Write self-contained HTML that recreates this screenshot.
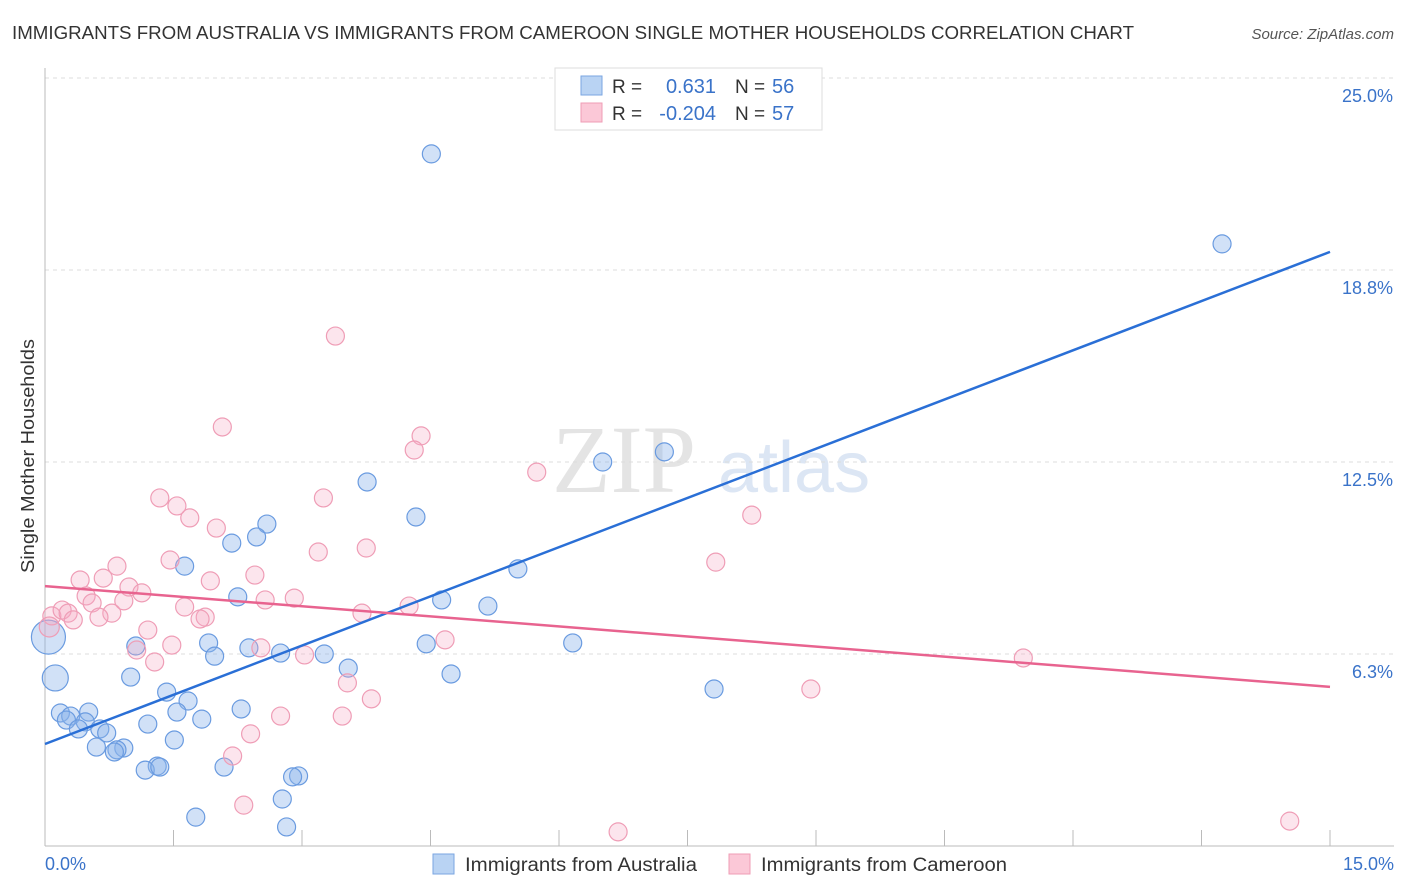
<!DOCTYPE html>
<html><head><meta charset="utf-8">
<style>
body{margin:0;background:#fff;font-family:"Liberation Sans",sans-serif;}
svg{display:block}
</style></head>
<body>
<svg id="chart" width="1406" height="892">
<text x="12" y="39" font-size="18" fill="#333" textLength="1122" lengthAdjust="spacingAndGlyphs">IMMIGRANTS FROM AUSTRALIA VS IMMIGRANTS FROM CAMEROON SINGLE MOTHER HOUSEHOLDS CORRELATION CHART</text>
<text x="1394" y="39" font-size="15" fill="#555" font-style="italic" text-anchor="end">Source: ZipAtlas.com</text>
<text x="552" y="492" font-size="96" fill="#e4e4e4" font-family="Liberation Serif,serif">ZIP</text>
<text x="718" y="492" font-size="72" fill="#dce6f4">atlas</text>
<g id="grid"></g>
<g id="axes"></g>
<g id="marks"></g>
<text transform="translate(34,456) rotate(-90)" font-size="18" fill="#333" text-anchor="middle" textLength="234" lengthAdjust="spacingAndGlyphs">Single Mother Households</text>
<text x="45" y="870" font-size="18" fill="#3a73c9">0.0%</text>
<text x="1394" y="870" font-size="18" fill="#3a73c9" text-anchor="end">15.0%</text>
<g>
<rect x="555" y="68" width="267" height="62" fill="#fff" stroke="#ddd"/>
<rect x="581" y="76" width="21" height="19" fill="#b9d3f3" stroke="#7aa6e2"/>
<rect x="581" y="103" width="21" height="19" fill="#fbc8d7" stroke="#ef9db6"/>
<text x="612" y="93" font-size="19" fill="#333">R =</text>
<text x="716" y="93" font-size="20" fill="#3a73c9" text-anchor="end">0.631</text>
<text x="735" y="93" font-size="19" fill="#333">N =</text>
<text x="772" y="93" font-size="20" fill="#3a73c9">56</text>
<text x="612" y="120" font-size="19" fill="#333">R =</text>
<text x="716" y="120" font-size="20" fill="#3a73c9" text-anchor="end">-0.204</text>
<text x="735" y="120" font-size="19" fill="#333">N =</text>
<text x="772" y="120" font-size="20" fill="#3a73c9">57</text>
</g>
<g>
<rect x="433" y="854" width="21" height="20" fill="#b9d3f3" stroke="#7aa6e2"/>
<text x="465" y="871" font-size="19" fill="#333" textLength="232" lengthAdjust="spacingAndGlyphs">Immigrants from Australia</text>
<rect x="729" y="854" width="21" height="20" fill="#fbc8d7" stroke="#ef9db6"/>
<text x="761" y="871" font-size="19" fill="#333" textLength="246" lengthAdjust="spacingAndGlyphs">Immigrants from Cameroon</text>
</g>
</svg>
<script>
const yTicks=[6.25,12.5,18.75,25];
const yTickLabels=["6.3%","12.5%","18.8%","25.0%"];
const xTicks=[0,1.5,3,4.5,6,7.5,9,10.5,12,13.5,15];
const blueX=[4.51,13.74,6.51,7.23,3.76,4.33,2.59,2.47,2.18,1.63,5.52,2.25,4.63,5.17,1.06,1.91,2.38,2.75,1.98,3.26,4.45,6.16,3.54,4.74,1.00,0.12,0.04,7.81,1.42,1.67,0.18,0.51,1.54,0.30,0.25,0.47,2.29,1.20,1.83,0.64,0.39,0.72,1.51,0.60,0.92,0.84,0.81,1.31,2.09,1.17,1.34,2.96,2.89,2.77,1.76,2.82];
const blueY=[22.53,19.60,12.50,12.83,11.85,10.71,10.48,10.06,9.86,9.11,9.02,8.11,8.01,7.81,6.51,6.61,6.45,6.28,6.18,6.25,6.58,6.61,5.79,5.60,5.50,5.47,6.80,5.11,5.01,4.72,4.33,4.36,4.36,4.23,4.10,4.04,4.46,3.97,4.13,3.81,3.81,3.68,3.45,3.22,3.19,3.13,3.06,2.60,2.57,2.47,2.57,2.28,2.25,1.53,0.94,0.62];
const blueR=[9,9,9,9,9,9,9,9,9,9,9,9,9,9,9,9,9,9,9,9,9,9,9,9,9,13,17,9,9,9,9,9,9,9,9,9,9,9,9,9,9,9,9,9,9,9,9,9,9,9,9,9,9,9,9,9];
const pinkX=[3.39,2.07,4.39,4.31,5.74,1.34,3.25,1.54,1.69,2.00,8.25,3.19,3.75,1.46,7.83,0.84,2.45,0.68,0.41,1.93,0.98,1.13,0.48,2.57,2.91,0.92,0.55,1.63,4.25,0.08,0.20,0.27,0.78,0.63,1.87,1.81,0.33,3.70,1.20,0.05,4.67,1.48,2.52,1.07,3.03,1.28,11.42,3.53,8.94,3.81,2.75,3.47,2.40,2.19,2.32,6.69,14.53];
const pinkY=[16.60,13.64,13.35,12.89,12.17,11.33,11.33,11.07,10.68,10.35,10.77,9.57,9.70,9.31,9.24,9.11,8.82,8.72,8.66,8.63,8.43,8.24,8.14,8.01,8.07,7.98,7.91,7.78,7.81,7.49,7.68,7.58,7.58,7.45,7.45,7.39,7.36,7.58,7.03,7.13,6.71,6.54,6.45,6.38,6.22,5.99,6.12,5.31,5.11,4.79,4.23,4.23,3.65,2.93,1.33,0.46,0.81];
const blueTrend=[3.32,19.34];
const pinkTrend=[8.46,5.18];
const X0=45,X1=1330,Y0=846;
function sx(v){return X0+v/15*(X1-X0);}
function sy(v){return Y0-v*30.72;}
const NS="http://www.w3.org/2000/svg";
function mk(t,a,p){const e=document.createElementNS(NS,t);for(const k in a)e.setAttribute(k,a[k]);p.appendChild(e);return e;}
const grid=document.getElementById('grid'),axes=document.getElementById('axes'),marks=document.getElementById('marks');
yTicks.forEach((v,i)=>{
 const l=mk('line',{x1:45,x2:1394,y1:sy(v),y2:sy(v),stroke:'#ddd','stroke-dasharray':'4,4'},grid);
 
 
 const t=mk('text',{x:1393,y:sy(v)+24,'font-size':18,fill:'#3a73c9','text-anchor':'end'},grid);
 t.textContent=yTickLabels[i];
 
 
});
const ya=mk('line',{x1:45,x2:45,y1:68,y2:846,stroke:'#bbb'},axes);


const xa=mk('line',{x1:45,x2:1394,y1:846,y2:846,stroke:'#bbb'},axes);


xTicks.forEach(v=>{
 const t=mk('line',{x1:sx(v),x2:sx(v),y1:830,y2:846,stroke:'#bbb'},axes);
 
 
});
blueX.forEach((v,i)=>{
 const c=mk('circle',{cx:sx(v),cy:sy(blueY[i]),r:blueR[i],fill:'rgba(140,180,235,0.4)',stroke:'#6a9be0','stroke-width':1.2},marks);
 
 
});
pinkX.forEach((v,i)=>{
 const c=mk('circle',{cx:sx(v),cy:sy(pinkY[i]),r:i==39?10:9,fill:'rgba(245,170,195,0.3)',stroke:'#ef9db6','stroke-width':1.2},marks);
 
 
});
const bl=mk('line',{x1:sx(0),y1:sy(blueTrend[0]),x2:sx(15),y2:sy(blueTrend[1]),stroke:'#2a6fd6','stroke-width':2.5},marks);


const pl=mk('line',{x1:sx(0),y1:sy(pinkTrend[0]),x2:sx(15),y2:sy(pinkTrend[1]),stroke:'#e8638f','stroke-width':2.5},marks);


</script>
</body></html>
